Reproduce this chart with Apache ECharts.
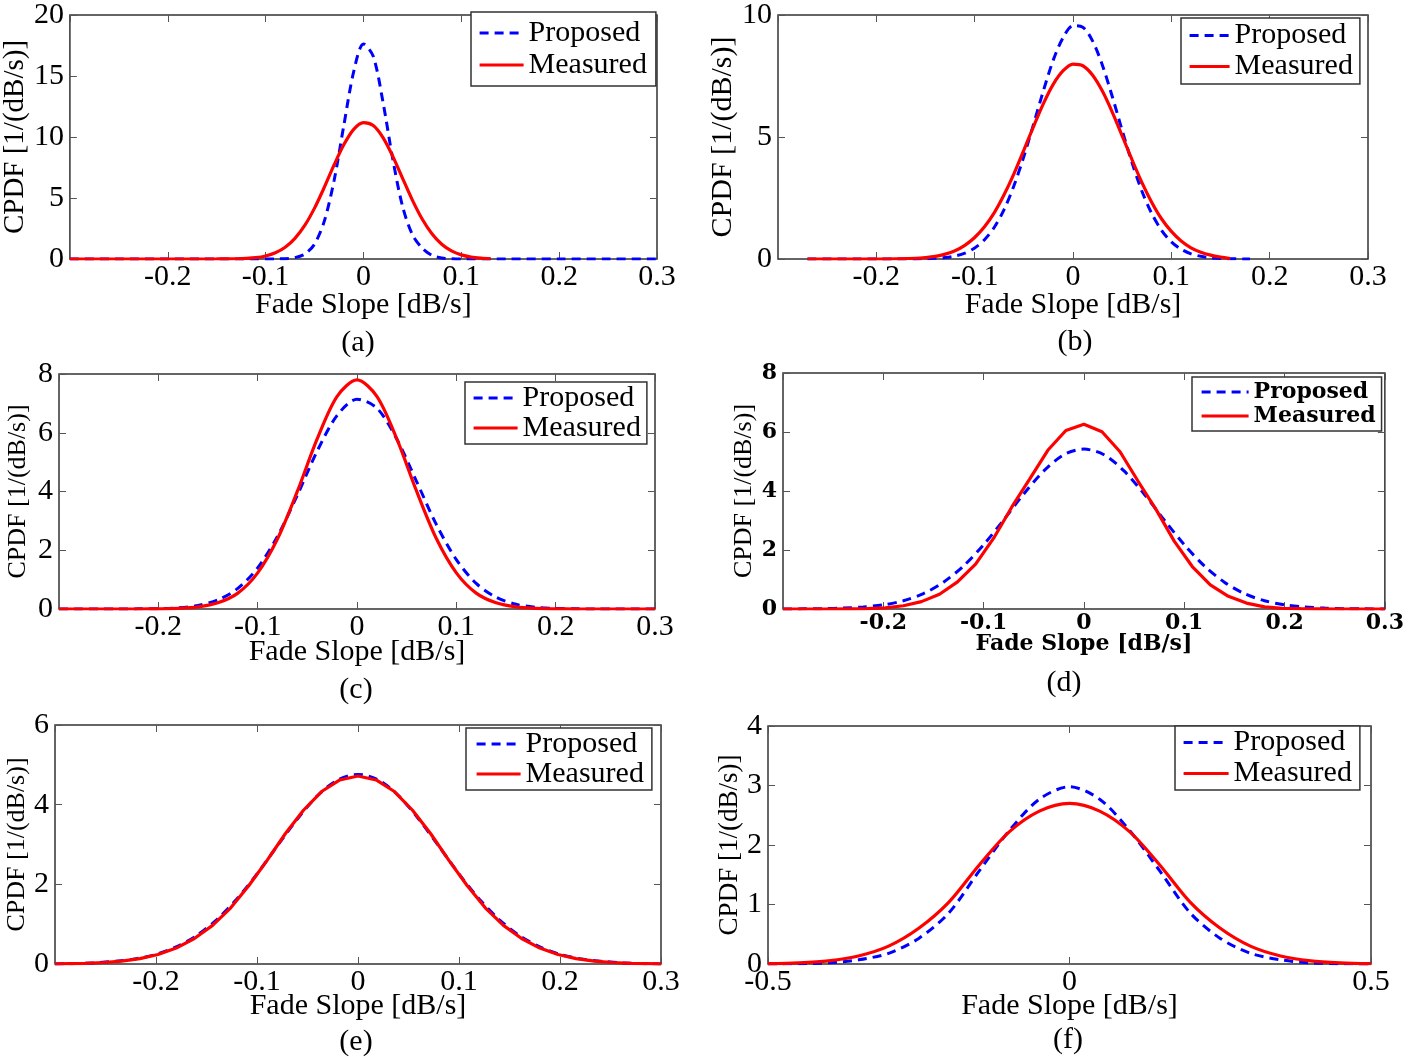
<!DOCTYPE html>
<html>
<head>
<meta charset="utf-8">
<title>CPDF of fade slope</title>
<script src="https://cdn.jsdelivr.net/npm/echarts@6.0.0/dist/echarts.min.js"></script>
<style>
  html, body { margin: 0; padding: 0; background: #fff; }
  #chart { width: 1407px; height: 1058px; }
</style>
</head>
<body>
<div id="chart"></div>
<script>
// ---- data (x in dB/s, y in 1/(dB/s)) ----

// (a)
const xA = [-0.3, -0.25, -0.2, -0.15, -0.14, -0.13, -0.12, -0.11, -0.1, -0.09, -0.08, -0.07, -0.06, -0.05, -0.04, -0.03, -0.02, -0.01, 0,
            0.01, 0.02, 0.03, 0.04, 0.05, 0.06, 0.07, 0.08, 0.09, 0.1, 0.11, 0.12, 0.13, 0.14, 0.15, 0.2, 0.25, 0.3];
const propA = [0, 0, 0, 0, 0, 0, 0, 0, 0, 0.005, 0.03, 0.11, 0.40, 1.22, 3.10, 6.44, 10.97, 15.35, 17.63,
               16.62, 12.85, 8.17, 4.30, 2.00, 0.90, 0.30, 0.08, 0.02, 0, 0, 0, 0, 0, 0, 0, 0, 0];
const measA = [0, 0, 0, 0.005, 0.01, 0.02, 0.05, 0.11, 0.25, 0.51, 0.96, 1.69, 2.75, 4.17, 5.88, 7.71, 9.38, 10.63, 11.18,
               10.94, 9.95, 8.41, 6.61, 4.83, 3.28, 2.07, 1.21, 0.66, 0.34, 0.16, 0.07, 0.02, null, null, null, null, null];

// (b)
const xB = [-0.27, -0.22, -0.2, -0.18, -0.16, -0.15, -0.14, -0.13, -0.12, -0.11, -0.1, -0.09, -0.08, -0.07, -0.06, -0.05, -0.04, -0.03, -0.02, -0.01, 0,
            0.01, 0.02, 0.03, 0.04, 0.05, 0.06, 0.07, 0.08, 0.09, 0.1, 0.11, 0.12, 0.13, 0.14, 0.15, 0.16, 0.18];
const propB = [0, 0, 0, 0, 0.005, 0.01, 0.03, 0.06, 0.12, 0.24, 0.45, 0.79, 1.30, 2.03, 3.01, 4.20, 5.54, 6.91, 8.16, 9.08, 9.56,
               9.50, 8.93, 7.93, 6.65, 5.27, 3.95, 2.79, 1.87, 1.18, 0.70, 0.40, 0.21, 0.11, 0.05, 0.02, 0.01, 0];
const measB = [0, 0, 0, 0.01, 0.03, 0.06, 0.11, 0.20, 0.34, 0.56, 0.88, 1.32, 1.90, 2.64, 3.50, 4.46, 5.44, 6.38, 7.17, 7.72, 7.99,
               7.92, 7.53, 6.87, 6.01, 5.05, 4.07, 3.14, 2.33, 1.65, 1.13, 0.74, 0.46, 0.28, 0.16, 0.08, 0.02, null];

// (c)
const xC = [-0.3, -0.28, -0.26, -0.24, -0.22, -0.2, -0.18, -0.16, -0.14, -0.12, -0.1, -0.08, -0.06, -0.04, -0.02, 0,
            0.02, 0.04, 0.06, 0.08, 0.1, 0.12, 0.14, 0.16, 0.18, 0.2, 0.22, 0.24, 0.26, 0.28, 0.3];
const propC = [0, 0, 0, 0, 0.005, 0.01, 0.04, 0.12, 0.31, 0.70, 1.40, 2.48, 3.88, 5.38, 6.59, 7.14,
               6.84, 5.79, 4.34, 2.87, 1.68, 0.87, 0.40, 0.16, 0.06, 0.02, 0.01, 0, 0, 0, 0];
const measC = [0, 0, 0, 0, 0, 0.005, 0.02, 0.07, 0.21, 0.54, 1.23, 2.39, 4.01, 5.80, 7.24, 7.80,
               7.24, 5.80, 4.01, 2.39, 1.23, 0.54, 0.21, 0.07, 0.02, 0.005, 0, 0, 0, 0, 0];

// (d)
const xD = [-0.3, -0.28, -0.26, -0.24, -0.22, -0.2, -0.18, -0.16, -0.14, -0.12, -0.1, -0.08, -0.06, -0.04, -0.02, 0,
            0.02, 0.04, 0.06, 0.08, 0.1, 0.12, 0.14, 0.16, 0.18, 0.2, 0.22, 0.24, 0.26, 0.28, 0.3];
const propD = [0, 0.005, 0.01, 0.03, 0.07, 0.14, 0.28, 0.52, 0.91, 1.46, 2.18, 3.02, 3.90, 4.68, 5.23, 5.42,
               5.23, 4.68, 3.90, 3.02, 2.18, 1.46, 0.91, 0.52, 0.28, 0.14, 0.07, 0.03, 0.01, 0.005, 0];
const xDm = [-0.3, -0.27, -0.252, -0.234, -0.216, -0.198, -0.18, -0.162, -0.144, -0.126, -0.108, -0.09, -0.072, -0.054, -0.036, -0.018, 0,
             0.018, 0.036, 0.054, 0.072, 0.09, 0.108, 0.126, 0.144, 0.162, 0.18, 0.198, 0.216, 0.234, 0.252, 0.27, 0.3];
const measD = [0, 0, 0, 0.005, 0.01, 0.04, 0.11, 0.25, 0.50, 0.92, 1.52, 2.40, 3.45, 4.41, 5.38, 6.05, 6.26,
               6.01, 5.33, 4.33, 3.37, 2.30, 1.44, 0.82, 0.43, 0.20, 0.07, 0.02, 0.01, 0.005, 0, 0, 0];

// (e)
const xE = [-0.3, -0.28, -0.26, -0.24, -0.22, -0.2, -0.18, -0.16, -0.14, -0.12, -0.1, -0.08, -0.06, -0.04, -0.02, 0,
            0.02, 0.04, 0.06, 0.08, 0.1, 0.12, 0.14, 0.16, 0.18, 0.2, 0.22, 0.24, 0.26, 0.28, 0.3];
const propE = [0, 0.01, 0.03, 0.07, 0.13, 0.24, 0.43, 0.71, 1.11, 1.63, 2.26, 2.96, 3.64, 4.23, 4.62, 4.76,
               4.62, 4.23, 3.64, 2.96, 2.26, 1.63, 1.11, 0.71, 0.43, 0.24, 0.13, 0.07, 0.03, 0.01, 0];
const xEm = [-0.3, -0.27, -0.252, -0.234, -0.216, -0.198, -0.18, -0.162, -0.144, -0.126, -0.108, -0.09, -0.072, -0.054, -0.036, -0.018, 0,
             0.018, 0.036, 0.054, 0.072, 0.09, 0.108, 0.126, 0.144, 0.162, 0.18, 0.198, 0.216, 0.234, 0.252, 0.27, 0.3];
const measE = [0.005, 0.018, 0.037, 0.073, 0.135, 0.24, 0.40, 0.64, 0.97, 1.41, 1.97, 2.60, 3.27, 3.86, 4.33, 4.62, 4.72,
               4.62, 4.33, 3.86, 3.27, 2.60, 1.97, 1.41, 0.97, 0.64, 0.40, 0.24, 0.135, 0.073, 0.037, 0.018, 0.005];

// (f)
const xF = [-0.5, -0.45, -0.4, -0.35, -0.3, -0.25, -0.2, -0.15, -0.1, -0.05, 0,
            0.05, 0.1, 0.15, 0.2, 0.25, 0.3, 0.35, 0.4, 0.45, 0.5];
const propF = [0, 0.005, 0.02, 0.07, 0.18, 0.43, 0.86, 1.56, 2.24, 2.77, 2.98,
               2.77, 2.24, 1.56, 0.86, 0.43, 0.18, 0.07, 0.02, 0.005, 0];
const measF = [0.005, 0.02, 0.054, 0.135, 0.30, 0.60, 1.04, 1.66, 2.22, 2.57, 2.70,
               2.57, 2.22, 1.66, 1.04, 0.60, 0.30, 0.135, 0.054, 0.02, 0.005];

const captions = ['(a)', '(b)', '(c)', '(d)', '(e)', '(f)'];
const legendNames = ['Proposed', 'Measured'];
const xTitle = 'Fade Slope [dB/s]';
const yTitle = 'CPDF [1/(dB/s)]';

// ---- layout / style per panel ----
const SERIF = "'Liberation Serif', 'Times New Roman', serif";
const WIDE = "'DejaVu Serif', serif";

const panels = [
  { grid: {left: 67, top: 10, width: 590, height: 249}, x: [-0.3, 0.3, 0.1], y: [0, 20, 5],
    prop: [xA, propA], meas: [xA, measA], measSmooth: true,
    xNameGap: 31, yNameGap: 30, yNameSize: 29, cap: [358, 343],
    legend: {left: 471, top: 12, padding: [5, 9, 5, 7], lh: 32, iw: 44} },
  { grid: {left: 778, top: 10, width: 590, height: 249}, x: [-0.3, 0.3, 0.1], y: [0, 10, 5],
    prop: [xB, propB], meas: [xB, measB], measSmooth: true,
    xNameGap: 31, yNameGap: 27, yNameSize: 30, cap: [1075, 342],
    legend: {left: 1181, top: 18, padding: [2, 7, 2, 7], lh: 31, iw: 40} },
  { grid: {left: 59, top: 374, width: 596, height: 235}, x: [-0.3, 0.3, 0.1], y: [0, 8, 2],
    prop: [xC, propC], meas: [xC, measC], measSmooth: true,
    xNameGap: 28, yNameGap: 28, yNameSize: 26, cap: [356, 690],
    legend: {left: 465, top: 382, padding: [1, 6, 1, 7], lh: 29, iw: 44} },
  { grid: {left: 783, top: 373, width: 607, height: 236}, x: [-0.3, 0.3, 0.1], y: [0, 8, 2],
    prop: [xD, propD], meas: [xDm, measD], measSmooth: false, wide: true,
    xNameGap: 24, yNameGap: 26, yNameSize: 26, cap: [1064, 683],
    legend: {left: 1192, top: 377, padding: [3, 6, 3, 8], lh: 24, iw: 47} },
  { grid: {left: 55, top: 725, width: 606, height: 239}, x: [-0.3, 0.3, 0.1], y: [0, 6, 2],
    prop: [xE, propE], meas: [xEm, measE], measSmooth: false,
    xNameGap: 27, yNameGap: 25, yNameSize: 26, cap: [356, 1042],
    legend: {left: 466, top: 728, padding: [1, 8, 1, 9], lh: 30, iw: 44} },
  { grid: {left: 768, top: 726, width: 603, height: 238}, x: [-0.5, 0.5, 0.5], y: [0, 4, 1],
    prop: [xF, propF], meas: [xF, measF], measSmooth: true, showMin: true,
    xNameGap: 27, yNameGap: 24, yNameSize: 27, cap: [1068, 1040],
    legend: {left: 1175, top: 726, padding: [1, 8, 1, 7], lh: 31, iw: 45} }
];

function pairs(xs, ys) {
  const out = [];
  xs.forEach(function (x, i) {
    if (ys[i] !== null) out.push([x, ys[i]]);
  });
  return out;
}

const option = {
  backgroundColor: '#fff',
  animation: false,
  grid: [], xAxis: [], yAxis: [], series: [], legend: [], graphic: []
};

panels.forEach(function (p, k) {
  const tickFont = p.wide ? {fontFamily: WIDE, fontWeight: 'bold', fontSize: 22}
                          : {fontFamily: SERIF, fontWeight: 'normal', fontSize: 30};
  const nameFont = p.wide ? {fontFamily: WIDE, fontWeight: 'bold', fontSize: 22}
                          : {fontFamily: SERIF, fontWeight: 'normal', fontSize: 30};
  const tick = {show: true, inside: true, length: 7, lineStyle: {color: '#555', width: 1}};
  const noLine = {show: false, onZero: false};

  option.grid.push(Object.assign({show: true, borderColor: '#333', borderWidth: 1.5}, p.grid));

  const xBase = {type: 'value', gridIndex: k, min: p.x[0], max: p.x[1], interval: p.x[2],
                 axisLine: noLine, splitLine: {show: false}, axisTick: tick};
  option.xAxis.push(Object.assign({}, xBase, {
    position: 'bottom',
    name: xTitle, nameLocation: 'middle', nameGap: p.xNameGap, nameMoveOverlap: false,
    nameTextStyle: Object.assign({color: '#000'}, nameFont),
    axisLabel: Object.assign({color: '#000', margin: 3, showMinLabel: !!p.showMin, showMaxLabel: true}, tickFont)
  }));
  option.xAxis.push(Object.assign({}, xBase, {position: 'top', axisLabel: {show: false}}));

  const yBase = {type: 'value', gridIndex: k, min: p.y[0], max: p.y[1], interval: p.y[2],
                 axisLine: noLine, splitLine: {show: false}, axisTick: tick};
  option.yAxis.push(Object.assign({}, yBase, {
    position: 'left',
    name: yTitle, nameLocation: 'middle', nameGap: p.yNameGap, nameRotate: 90,
    nameTextStyle: {color: '#000', fontFamily: SERIF, fontSize: p.yNameSize},
    axisLabel: Object.assign({color: '#000', margin: 6}, tickFont)
  }));
  option.yAxis.push(Object.assign({}, yBase, {position: 'right', axisLabel: {show: false}}));

  option.series.push({
    type: 'line', name: 'Proposed', xAxisIndex: 2 * k, yAxisIndex: 2 * k,
    data: pairs(p.prop[0], p.prop[1]), symbol: 'none', smooth: 0.3, silent: true,
    lineStyle: {color: '#0000ff', width: 3, type: [9, 6]}, itemStyle: {color: '#0000ff'}, z: 2
  });
  option.series.push({
    type: 'line', name: 'Measured', xAxisIndex: 2 * k, yAxisIndex: 2 * k,
    data: pairs(p.meas[0], p.meas[1]), symbol: 'none', smooth: p.measSmooth ? 0.3 : false, silent: true,
    lineStyle: {color: '#ff0000', width: 3.2}, itemStyle: {color: '#ff0000'}, z: 3
  });

  const lg = p.legend;
  option.legend.push({
    data: legendNames, orient: 'vertical', left: lg.left, top: lg.top,
    padding: lg.padding, itemGap: 0, itemWidth: lg.iw, itemHeight: 14,
    itemStyle: {opacity: 0},
    lineStyle: {width: 3.2},
    borderColor: '#333', borderWidth: 1.5, borderRadius: 0, backgroundColor: '#fff',
    selectedMode: false,
    textStyle: p.wide ? {fontFamily: WIDE, fontWeight: 'bold', fontSize: 22, color: '#000', lineHeight: lg.lh}
                      : {fontFamily: SERIF, fontSize: 30, color: '#000', lineHeight: lg.lh}
  });

  option.graphic.push({
    type: 'text', x: p.cap[0], y: p.cap[1], silent: true,
    style: {text: captions[k], fill: '#000', font: "30px 'Liberation Serif', serif",
            textAlign: 'center', textVerticalAlign: 'middle'}
  });
});

const chart = echarts.init(document.getElementById('chart'), null, {renderer: 'canvas'});
chart.setOption(option);
</script>
</body>
</html>
